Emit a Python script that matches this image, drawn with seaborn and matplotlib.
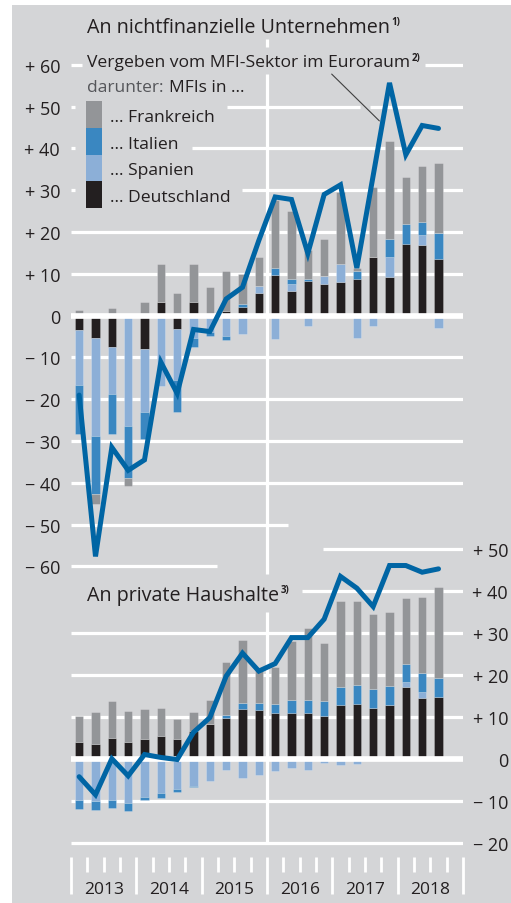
import numpy as np
import pandas as pd
import matplotlib.pyplot as plt
import seaborn as sns
from matplotlib.patches import Rectangle

# Quarters 2013 Q1 - 2018 Q3
quarters = ['2013Q1', '2013Q2', '2013Q3', '2013Q4', '2014Q1', '2014Q2', '2014Q3', '2014Q4',
            '2015Q1', '2015Q2', '2015Q3', '2015Q4', '2016Q1', '2016Q2', '2016Q3', '2016Q4',
            '2017Q1', '2017Q2', '2017Q3', '2017Q4', '2018Q1', '2018Q2', '2018Q3']
years = ['2013', '2014', '2015', '2016', '2017', '2018']

# An nichtfinanzielle Unternehmen (Mrd Euro, Veraenderung)
nfc_de = [-3.4, -5.4, -7.4, -0.3, -8.0, 3.2, -3.2, 3.2, -0.5, 1.0, 2.0, 5.4,
          9.7, 6.0, 8.2, 7.6, 8.0, 8.8, 14.0, 9.2, 17.2, 16.9, 13.6]
nfc_es = [-13.2, -23.3, -11.3, -26.0, -15.1, -16.9, -12.3, -5.3, -3.3, -4.8, -4.3, 1.8,
          -5.7, 1.6, -2.4, 1.8, 4.4, -5.3, -2.5, 4.8, -0.4, 2.4, -2.9]
nfc_it = [-11.7, -14.0, -9.6, -12.5, -6.4, 0.0, -7.5, -2.1, -1.0, -1.0, 0.8, 0.0,
          1.7, 1.2, 0.5, 0.0, -0.3, 2.0, 0.0, 4.4, 4.8, 3.2, 6.2]
nfc_fr = [1.4, -2.3, 1.8, -1.9, 3.2, 9.2, 5.4, 9.2, 6.8, 9.6, 7.2, 6.8,
          16.3, 16.3, 7.0, 8.9, 17.1, 0.5, 16.7, 23.5, 11.1, 13.4, 16.7]
nfc_total = [-19.0, -57.6, -31.5, -37.0, -34.5, -11.1, -18.6, -3.3, -3.8, 4.0, 6.8, 18.0,
             28.4, 27.8, 14.9, 29.0, 31.3, 11.4, 33.5, 55.7, 38.5, 45.5, 44.8]

# An private Haushalte
hh_de = [3.9, 3.6, 5.0, 3.9, 4.8, 5.5, 4.8, 6.6, 8.2, 9.6, 11.8, 11.6,
         10.8, 10.8, 10.8, 10.2, 12.7, 13.0, 12.2, 12.7, 17.2, 14.6, 14.8]
hh_es = [-9.9, -10.2, -9.9, -10.6, -9.1, -8.1, -7.2, -6.4, -5.4, -2.6, -4.6, -3.8,
         -3.0, -2.2, -2.8, -1.0, -1.5, -1.3, 0.0, 0.0, 1.0, 1.3, 0.0]
hh_it = [-2.0, -2.1, -1.8, -1.9, -0.8, -1.2, -0.8, -0.3, 0.0, 0.8, 1.6, 1.8,
         2.2, 3.2, 3.3, 3.6, 4.5, 4.5, 4.4, 4.6, 4.5, 4.5, 4.4]
hh_fr = [6.3, 7.5, 8.8, 7.6, 7.1, 6.7, 4.7, 4.5, 5.7, 12.7, 14.9, 8.1,
         9.0, 14.1, 17.0, 13.9, 20.5, 20.2, 17.9, 17.6, 15.6, 18.3, 21.7]
hh_total = [-4.3, -8.6, 0.0, -4.1, 1.0, 0.3, -0.2, 6.3, 9.8, 19.7, 25.2, 20.9,
            22.7, 28.9, 28.9, 33.3, 43.5, 40.7, 36.3, 46.1, 46.1, 44.5, 45.3]

BG = '#d4d5d7'
C_FR = '#939598'
C_IT = '#3a87c1'
C_ES = '#8cafd7'
C_DE = '#231f20'
C_LINE = '#0065a4'
TXT = '#231f20'
W, H = 511, 904

sns.set_theme(style='white')
plt.rcParams['font.family'] = ['Open Sans', 'DejaVu Sans']

fig = plt.figure(figsize=(W / 100, H / 100), dpi=100, facecolor='white')
fig.add_artist(Rectangle((12 / W, 0), (W - 12) / W, (H - 6) / H, transform=fig.transFigure,
                         facecolor=BG, edgecolor='none', zorder=-5))

ax_top = fig.add_axes([71 / W, 1 - 580 / H, 392 / W, 544 / H])
ax_bot = fig.add_axes([71 / W, 1 - 858 / H, 392 / W, 318 / H])
for ax in (ax_top, ax_bot):
    ax.set_facecolor('none')
    for s in ax.spines.values():
        s.set_visible(False)
    ax.set_xlim(-0.5, 23.5)
ax_top.set_ylim(-63.0, 67.15)
ax_bot.set_ylim(-23.46, 52.43)

x = np.arange(len(quarters))


def stacked(ax, parts, colors):
    pos = np.zeros(len(x))
    neg = np.zeros(len(x))
    for vals, col in zip(parts, colors):
        vals = np.asarray(vals, float)
        bottom = np.where(vals >= 0, pos, neg)
        ax.bar(x, vals, width=0.5, bottom=bottom, color=col,
               edgecolor=(1, 1, 1, 0.25), linewidth=0.6, zorder=3)
        pos += np.clip(vals, 0, None)
        neg += np.clip(vals, None, 0)


stacked(ax_top, [nfc_de, nfc_es, nfc_it, nfc_fr], [C_DE, C_ES, C_IT, C_FR])
stacked(ax_bot, [hh_de, hh_es, hh_it, hh_fr], [C_DE, C_ES, C_IT, C_FR])


def hgrid(ax, value, spans=((71, 463),)):
    lw = 4.1 if value == 0 else 2.3
    for a, b in spans:
        ax.axhline(value, (a - 71) / 392, (b - 71) / 392, color='white', lw=lw,
                   zorder=4 if value == 0 else 2, solid_capstyle='butt')


top_spans = {60: ((71, 82), (425, 463)), 50: ((71, 75), (227, 360), (370, 463)),
             40: ((71, 75), (192, 463)), 30: ((71, 75), (242, 463)),
             -50: ((71, 288),), -60: ((71, 217),)}
for v in range(-60, 61, 10):
    hgrid(ax_top, v, top_spans.get(v, ((71, 463),)))
bot_spans = {50: ((323, 463),), 40: ((302, 463),)}
for v in range(-20, 51, 10):
    hgrid(ax_bot, v, bot_spans.get(v, ((71, 463),)))

# vertical marker line at start of 2016
ax_top.vlines(11.5, 64.3, 66.2, color='white', lw=2.3, zorder=4)
ax_top.vlines(11.5, -61.8, 57.8, color='white', lw=2.3, zorder=4)
ax_bot.vlines(11.5, -20.4, 35.0, color='white', lw=2.3, zorder=4)

# lines
sns.lineplot(x=x, y=nfc_total, ax=ax_top, color=C_LINE, linewidth=3.6, zorder=5,
             sort=False, estimator=None, solid_joinstyle='miter')
sns.lineplot(x=x, y=hh_total, ax=ax_bot, color=C_LINE, linewidth=3.6, zorder=5,
             sort=False, estimator=None, solid_joinstyle='miter')

ax_top.annotate('', xy=(18.38, 46.6), xytext=(15.46, 57.8),
                arrowprops=dict(arrowstyle='-', color='#404040', lw=0.8, shrinkA=0, shrinkB=0),
                zorder=4)


def fmt(v):
    if v > 0:
        return f'+ {v}'
    if v < 0:
        return f'\u2212 {abs(v)}'
    return '0'


top_ticks = list(range(-60, 61, 10))
ax_top.set_yticks(top_ticks)
ax_top.set_yticklabels([fmt(v) for v in top_ticks])
ax_top.tick_params(axis='y', left=False, length=0, pad=7.9, labelsize=13, labelcolor=TXT)
ax_top.tick_params(axis='x', bottom=False, labelbottom=False)
ax_top.set_xlabel('')
ax_top.set_ylabel('')

bot_ticks = list(range(-20, 51, 10))
ax_bot.yaxis.tick_right()
ax_bot.set_yticks(bot_ticks)
ax_bot.set_yticklabels([fmt(v) for v in bot_ticks])
ax_bot.tick_params(axis='y', right=False, length=0, pad=32.4, labelsize=13, labelcolor=TXT)
for tick in ax_bot.yaxis.get_major_ticks():
    tick.label2.set_horizontalalignment('right')
ax_bot.set_xticks(np.arange(-0.5, 24, 4))
ax_bot.set_xticks([q for q in np.arange(0.5, 23.5, 1) if (q + 0.5) % 4], minor=True)
ax_bot.tick_params(axis='x', which='major', bottom=True, direction='out', length=26.6,
                   width=2.0, color='white', labelbottom=False)
ax_bot.tick_params(axis='x', which='minor', bottom=True, direction='out', length=10.8,
                   width=2.0, color='white', labelbottom=False)
ax_bot.set_xlabel('')
ax_bot.set_ylabel('')
for i, yr in enumerate(years):
    ax_bot.text(4 * i + 1.5, -0.1006, yr, transform=ax_bot.get_xaxis_transform(),
                ha='center', va='center', fontsize=12.5, color=TXT)


# texts in pixel positions
def ftext(px, py, s, **kw):
    kw.setdefault('color', TXT)
    return fig.text(px / W, 1 - py / H, s, **kw)


renderer = fig.canvas.get_renderer()


def sup(t, top, s):
    bb = t.get_window_extent(renderer)
    ftext(bb.x1 + 1.5, top, s, fontsize=7, fontweight='bold', va='top')


t = ftext(87, 33.3, 'An nichtfinanzielle Unternehmen', fontsize=14.2, va='baseline')
sup(t, 17, '1)')
t = ftext(87, 66.7, 'Vergeben vom MFI-Sektor im Euroraum', fontsize=12.6, va='baseline')
sup(t, 53.5, '2)')
t = ftext(87, 91.7, 'darunter:', fontsize=12.5, va='baseline', color='#55565a')
bb = t.get_window_extent(renderer)
ftext(bb.x1 + 5, 91.7, 'MFIs in ...', fontsize=12.5, va='baseline')

legend_rows = [('... Frankreich', C_FR), ('... Italien', C_IT),
               ('... Spanien', C_ES), ('... Deutschland', C_DE)]
for i, (lab, col) in enumerate(legend_rows):
    top = 102 + i * 26.75
    fig.add_artist(Rectangle((86 / W, 1 - (top + 26.75) / H), 16 / W, 26.75 / H,
                             transform=fig.transFigure, facecolor=col, edgecolor='none'))
    ftext(110, top + 20, lab, fontsize=12.6, va='baseline')

t = ftext(87, 600.7, 'An private Haushalte', fontsize=14.2, va='baseline')
sup(t, 585.5, '3)')

fig.savefig('out.png', dpi=100, facecolor='white')
